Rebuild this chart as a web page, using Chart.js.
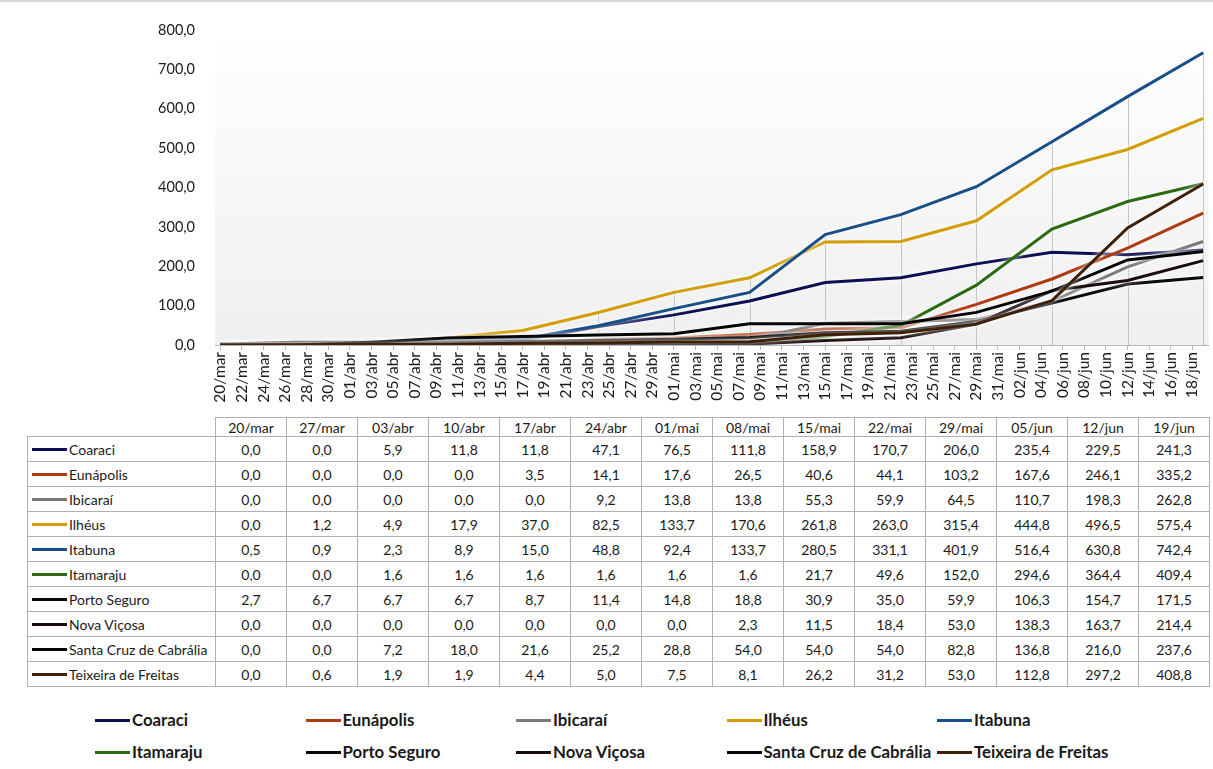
<!DOCTYPE html>
<html>
<head>
<meta charset="utf-8">
<script src="https://cdn.jsdelivr.net/npm/chart.js@4.4.0/dist/chart.umd.min.js"></script>
<style>
  body { margin: 0; background: #fff; font-family: Lato, "Open Sans", sans-serif; color: #1a1a1a; }
  #wrap { position: relative; width: 1213px; height: 769px; border-top: 2px solid #d4d4d4; box-sizing: border-box; overflow: hidden; }
  #chartBox { position: absolute; left: 0; top: -2px; width: 1213px; height: 412px; }
  #dataTable { position: absolute; left: 27px; top: 415px; border-collapse: collapse; font-size: 14px; }
  #dataTable td { border: 1px solid #b0b0b0; height: 24px; padding: 0; text-align: center; width: 70px; }
  #dataTable tr.head td { height: 18px; }
  #dataTable td.name { width: 187px; text-align: left; white-space: nowrap; }
  #dataTable td.blank { border: none; }
  .swatch { display: inline-block; width: 35px; height: 3px; vertical-align: middle; margin: 0 2px 0 4px; position: relative; top: -1px; }
  #legend { position: absolute; left: 0; top: 707px; width: 1213px; font-size: 16.8px; font-weight: bold; }
  .item { position: absolute; white-space: nowrap; }
  .item .swatch { margin: 0 2px 0 0; }
</style>
</head>
<body>
<div id="wrap">
  <div id="chartBox"><canvas id="chart"></canvas></div>
  <table id="dataTable"></table>
  <div id="legend"></div>
</div>
<script>
// weekly dates of the data points
const dates = ['20/mar','27/mar','03/abr','10/abr','17/abr','24/abr','01/mai','08/mai','15/mai','22/mai','29/mai','05/jun','12/jun','19/jun'];

// axis labels, every 2 days starting on 20/mar
const tickLabels = ['20/mar','22/mar','24/mar','26/mar','28/mar','30/mar','01/abr','03/abr','05/abr','07/abr',
  '09/abr','11/abr','13/abr','15/abr','17/abr','19/abr','21/abr','23/abr','25/abr','27/abr','29/abr',
  '01/mai','03/mai','05/mai','07/mai','09/mai','11/mai','13/mai','15/mai','17/mai','19/mai','21/mai',
  '23/mai','25/mai','27/mai','29/mai','31/mai','02/jun','04/jun','06/jun','08/jun','10/jun','12/jun',
  '14/jun','16/jun','18/jun'];

const yTicks = [0, 100, 200, 300, 400, 500, 600, 700, 800];

const names = ['Coaraci','Eunápolis','Ibicaraí','Ilhéus','Itabuna','Itamaraju','Porto Seguro','Nova Viçosa','Santa Cruz de Cabrália','Teixeira de Freitas'];
const colors = ['#0e0e55','#b03a12','#7a7a7a','#d39d05','#184f88','#2a6a12','#0a0a0a','#1c0d0d','#050505','#3f2008'];

const coaraci   = [0.0, 0.0, 5.9, 11.8, 11.8, 47.1, 76.5, 111.8, 158.9, 170.7, 206.0, 235.4, 229.5, 241.3];
const eunapolis = [0.0, 0.0, 0.0, 0.0, 3.5, 14.1, 17.6, 26.5, 40.6, 44.1, 103.2, 167.6, 246.1, 335.2];
const ibicarai  = [0.0, 0.0, 0.0, 0.0, 0.0, 9.2, 13.8, 13.8, 55.3, 59.9, 64.5, 110.7, 198.3, 262.8];
const ilheus    = [0.0, 1.2, 4.9, 17.9, 37.0, 82.5, 133.7, 170.6, 261.8, 263.0, 315.4, 444.8, 496.5, 575.4];
const itabuna   = [0.5, 0.9, 2.3, 8.9, 15.0, 48.8, 92.4, 133.7, 280.5, 331.1, 401.9, 516.4, 630.8, 742.4];
const itamaraju = [0.0, 0.0, 1.6, 1.6, 1.6, 1.6, 1.6, 1.6, 21.7, 49.6, 152.0, 294.6, 364.4, 409.4];
const portoSeguro = [2.7, 6.7, 6.7, 6.7, 8.7, 11.4, 14.8, 18.8, 30.9, 35.0, 59.9, 106.3, 154.7, 171.5];
const novaVicosa  = [0.0, 0.0, 0.0, 0.0, 0.0, 0.0, 0.0, 2.3, 11.5, 18.4, 53.0, 138.3, 163.7, 214.4];
const santaCruz   = [0.0, 0.0, 7.2, 18.0, 21.6, 25.2, 28.8, 54.0, 54.0, 54.0, 82.8, 136.8, 216.0, 237.6];
const teixeira    = [0.0, 0.6, 1.9, 1.9, 4.4, 5.0, 7.5, 8.1, 26.2, 31.2, 53.0, 112.8, 297.2, 408.8];

const series = [coaraci, eunapolis, ibicarai, ilheus, itabuna, itamaraju, portoSeguro, novaVicosa, santaCruz, teixeira];

const fmt = v => v.toFixed(1).replace('.', ',');

// day offset of each weekly date / tick label
const dayOf = i => i * 7;
const tickDay = i => i * 2;

// plot background gradient + drop lines + white glow on lines
const decor = {
  id: 'decor',
  beforeDraw(chart) {
    const { ctx, chartArea: a } = chart;
    const g = ctx.createLinearGradient(0, a.top, 0, a.bottom);
    g.addColorStop(0, '#ffffff');
    g.addColorStop(1, '#efefef');
    ctx.save();
    ctx.fillStyle = g;
    ctx.fillRect(a.left, a.top, a.right - a.left, a.bottom - a.top);
    ctx.restore();
  },
  beforeDatasetsDraw(chart) {
    const { ctx, scales } = chart;
    ctx.save();
    ctx.strokeStyle = '#c4c4c4';
    ctx.lineWidth = 1;
    dates.forEach((d, i) => {
      const top = Math.max(...series.map(s => s[i]));
      const x = Math.round(scales.x.getPixelForValue(dayOf(i))) + 0.5;
      ctx.beginPath();
      ctx.moveTo(x, scales.y.getPixelForValue(top));
      ctx.lineTo(x, scales.y.getPixelForValue(0));
      ctx.stroke();
    });
    ctx.restore();
    ctx.save();
    ctx.shadowColor = 'rgba(255,255,255,0.95)';
    ctx.shadowBlur = 5;
  },
  afterDatasetsDraw(chart) {
    chart.ctx.restore();
  }
};

new Chart(document.getElementById('chart'), {
  type: 'line',
  data: {
    datasets: names.map((n, k) => ({
      label: n,
      data: series[k].map((v, i) => ({ x: dayOf(i), y: v })),
      borderColor: colors[k],
      borderWidth: 3,
      pointRadius: 0,
      tension: 0,
      order: names.length - k
    }))
  },
  options: {
    responsive: true,
    maintainAspectRatio: false,
    animation: false,
    layout: { padding: { top: 30, right: 3, left: 0, bottom: 2 } },
    plugins: { legend: { display: false }, tooltip: { enabled: false } },
    scales: {
      x: {
        type: 'linear',
        min: -0.5,
        max: 91.5,
        afterBuildTicks: axis => { axis.ticks = tickLabels.map((t, i) => ({ value: tickDay(i) })); },
        afterFit: axis => { axis.height = 65; },
        ticks: {
          autoSkip: false,
          minRotation: 90,
          maxRotation: 90,
          color: '#1a1a1a',
          font: { family: 'Lato', size: 15.5 },
          padding: 2,
          callback: (v, i) => tickLabels[i]
        },
        grid: { drawOnChartArea: false, drawTicks: true, tickLength: 5, color: '#b8b8b8' },
        border: { display: true, color: '#b8b8b8' }
      },
      y: {
        min: 0,
        max: 800,
        afterBuildTicks: axis => { axis.ticks = yTicks.map(v => ({ value: v })); },
        afterFit: axis => { axis.width = 215; },
        ticks: {
          color: '#1a1a1a',
          font: { family: 'Lato', size: 14.5 },
          padding: 12,
          callback: v => fmt(v)
        },
        grid: { display: false },
        border: { display: false }
      }
    }
  },
  plugins: [decor]
});

// data table under the chart
const table = document.getElementById('dataTable');
let html = '<tr class="head"><td class="name blank"></td>' + dates.map(d => '<td>' + d + '</td>').join('') + '</tr>';
names.forEach((n, k) => {
  html += '<tr><td class="name"><span class="swatch" style="background:' + colors[k] + '"></span>' + n + '</td>' +
    series[k].map(v => '<td>' + fmt(v) + '</td>').join('') + '</tr>';
});
table.innerHTML = html;

// legend, 5 columns x 2 rows
const legend = document.getElementById('legend');
names.forEach((n, k) => {
  const el = document.createElement('div');
  el.className = 'item';
  el.style.left = (95 + (k % 5) * 210.5) + 'px';
  el.style.top = (Math.floor(k / 5) * 32) + 'px';
  el.innerHTML = '<span class="swatch" style="background:' + colors[k] + '"></span>' + n;
  legend.appendChild(el);
});
</script>
</body>
</html>
